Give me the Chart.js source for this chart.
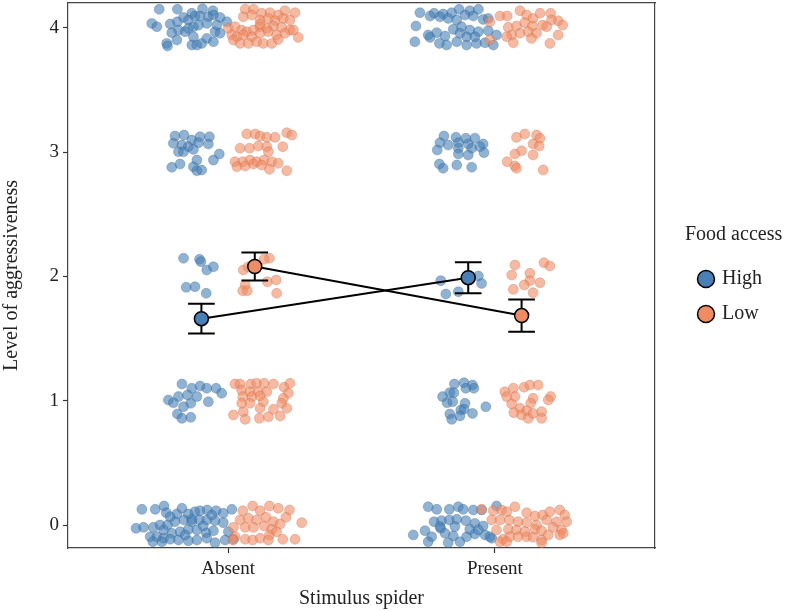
<!DOCTYPE html>
<html>
<head>
<meta charset="utf-8">
<script src="https://cdn.jsdelivr.net/npm/chart.js@4.4.1/dist/chart.umd.min.js"></script>
<style>
  html, body { margin: 0; padding: 0; background: #fff; }
  #wrap { width: 790px; height: 611px; }
</style>
</head>
<body>
<div id="wrap"><canvas id="chart"></canvas></div>
<script>
const stimulus = ['Absent', 'Present']
const foodAccess = ['High', 'Low']
const yTicks = [0, 1, 2, 3, 4]

// group means and standard errors (Absent, Present)
const highMean = [1.66, 1.99]
const highSE = [0.12, 0.125]
const lowMean = [2.08, 1.685]
const lowSE = [0.113, 0.13]

const absentHigh = [
  [0.742,4.149],[0.810,4.149],[0.864,4.117],[0.904,4.154],[0.943,4.138],[0.714,4.036],[0.733,4.009],[0.783,4.031],
  [0.810,4.049],[0.833,4.084],[0.851,4.063],[0.876,4.095],[0.895,4.095],[0.926,4.089],[0.945,4.103],[0.970,4.084],
  [0.995,4.049],[0.789,3.961],[0.814,3.982],[0.839,3.969],[0.870,4.009],[0.889,4.022],[0.920,4.036],[0.951,3.969],
  [0.970,3.956],[0.808,3.902],[0.770,3.875],[0.773,3.854],[0.864,3.862],[0.883,3.862],[0.901,3.875],[0.920,3.915],
  [0.945,3.888],[0.870,3.928],[0.851,3.996],[0.958,4.022],
  [0.801,3.130],[0.835,3.137],[0.864,3.097],[0.895,3.124],[0.930,3.124],[0.795,3.071],[0.827,3.057],[0.851,3.044],
  [0.889,3.076],[0.926,3.065],[0.814,3.003],[0.833,3.003],[0.870,3.022],[0.883,2.936],[0.945,2.936],[0.967,2.985],
  [0.789,2.878],[0.820,2.904],[0.870,2.883],[0.883,2.850],[0.901,2.856],
  [0.833,2.146],[0.893,2.138],[0.898,2.119],[0.920,2.052],[0.945,2.078],[0.843,1.912],[0.876,1.917],[0.918,1.864],
  [0.827,1.134],[0.864,1.100],[0.895,1.118],[0.920,1.100],[0.955,1.100],[0.976,1.060],[0.814,1.033],[0.848,1.046],
  [0.883,1.033],[0.776,1.006],[0.795,0.984],[0.860,0.979],[0.926,0.992],[0.833,0.952],[0.810,0.893],[0.827,0.858],
  [0.860,0.866],
  [0.677,0.126],[0.727,0.126],[0.760,0.153],[0.768,0.099],[0.808,0.088],[0.827,0.134],[0.851,0.088],[0.876,0.107],
  [0.895,0.115],[0.922,0.121],[0.955,0.115],[0.982,0.094],[1.014,0.126],[0.655,-0.027],[0.683,-0.019],[0.720,-0.019],
  [0.745,0.000],[0.773,0.000],[0.801,0.027],[0.835,0.040],[0.864,0.046],[0.893,0.040],[0.920,0.040],[0.951,0.035],
  [0.982,0.019],[0.708,-0.094],[0.733,-0.094],[0.758,-0.107],[0.789,-0.067],[0.820,-0.054],[0.851,-0.035],[0.883,-0.040],
  [0.918,-0.062],[0.945,-0.046],[1.001,-0.054],[0.718,-0.134],[0.752,-0.134],[0.783,-0.115],[0.814,-0.121],[0.851,-0.126],
  [0.883,-0.121],[0.920,-0.107],[0.951,-0.142],[0.989,-0.121],[1.020,-0.115],[0.864,0.027],[0.783,0.067],[0.758,-0.040],
  [0.907,-0.008],[0.839,-0.080],[0.939,0.080]
]
const absentLow = [
  [1.064,4.149],[1.095,4.149],[1.126,4.117],[1.157,4.122],[1.188,4.103],[1.213,4.138],[1.251,4.122],[1.057,4.089],
  [1.089,4.103],[1.120,4.063],[1.151,4.076],[1.176,4.057],[1.207,4.076],[1.232,4.063],[1.001,3.996],[1.026,4.009],
  [1.051,3.982],[1.070,3.969],[1.095,3.982],[1.120,4.009],[1.145,3.996],[1.170,4.015],[1.201,4.004],[1.232,3.982],
  [1.014,3.942],[1.033,3.928],[1.057,3.942],[1.089,3.928],[1.120,3.956],[1.151,3.969],[1.182,3.942],[1.213,3.956],
  [1.263,3.923],[1.020,3.902],[1.045,3.875],[1.076,3.875],[1.107,3.888],[1.132,3.875],[1.164,3.875],[1.188,3.907],
  [1.120,4.031],[1.245,3.982],
  [1.070,3.146],[1.101,3.146],[1.120,3.130],[1.145,3.119],[1.176,3.119],[1.220,3.156],[1.239,3.137],[1.045,3.031],
  [1.080,3.031],[1.113,3.049],[1.145,3.044],[1.151,3.003],[1.205,3.044],[1.026,2.923],[1.055,2.923],[1.082,2.936],
  [1.107,2.923],[1.135,2.936],[1.164,2.923],[1.188,2.910],[1.033,2.883],[1.064,2.888],[1.095,2.904],[1.126,2.896],
  [1.155,2.862],[1.220,2.850],
  [1.155,2.146],[1.135,2.138],[1.057,2.052],[1.064,1.931],[1.055,1.885],[1.072,1.885],[1.147,1.957],[1.180,1.971],
  [1.182,1.864],[1.076,2.078],
  [1.026,1.134],[1.045,1.134],[1.085,1.134],[1.107,1.140],[1.135,1.140],[1.170,1.134],[1.210,1.108],[1.232,1.140],
  [1.051,1.086],[1.082,1.072],[1.113,1.072],[1.145,1.072],[1.226,1.060],[1.055,1.033],[1.089,1.033],[1.120,1.038],
  [1.207,1.019],[1.051,0.979],[1.082,0.979],[1.132,0.992],[1.201,0.979],[1.220,0.939],[1.057,0.912],[1.120,0.939],
  [1.170,0.931],[1.020,0.885],[1.064,0.850],[1.117,0.858],[1.151,0.871],[1.195,0.877],
  [1.055,0.115],[1.092,0.153],[1.120,0.115],[1.155,0.153],[1.188,0.134],[1.230,0.121],[1.045,0.040],[1.076,0.054],
  [1.107,0.040],[1.142,0.062],[1.170,0.027],[1.217,0.062],[1.276,0.019],[1.020,-0.019],[1.064,-0.019],[1.095,-0.019],
  [1.135,-0.008],[1.164,-0.035],[1.195,0.008],[1.026,-0.094],[1.064,-0.115],[1.092,-0.121],[1.120,-0.107],[1.155,-0.080],
  [1.182,-0.054],[1.205,-0.115],[1.251,-0.115],[1.018,-0.121],[1.151,-0.121]
]
const presentHigh = [
  [1.719,4.122],[1.772,4.117],[1.806,4.111],[1.838,4.122],[1.866,4.149],[1.906,4.138],[1.938,4.149],[1.704,4.015],
  [1.757,4.095],[1.794,4.089],[1.825,4.076],[1.857,4.063],[1.888,4.103],[1.919,4.095],[1.956,4.068],[1.975,4.076],
  [1.750,3.942],[1.782,3.961],[1.813,3.934],[1.844,3.988],[1.875,4.009],[1.906,3.982],[1.938,3.969],[1.975,3.977],
  [1.700,3.888],[1.757,3.923],[1.792,3.875],[1.819,3.862],[1.857,3.888],[1.894,3.862],[1.931,3.875],[1.963,3.880],
  [1.994,3.862],[2.006,3.942],[1.869,3.956],[1.894,3.928],[1.925,3.928],
  [1.809,3.130],[1.854,3.119],[1.891,3.111],[1.925,3.111],[1.794,3.076],[1.825,3.057],[1.863,3.076],[1.900,3.065],
  [1.956,3.065],[1.784,3.017],[1.863,3.031],[1.913,3.031],[1.944,3.044],[1.959,2.996],[1.863,2.985],[1.900,2.977],
  [1.792,2.904],[1.806,2.870],[1.857,2.896],[1.913,2.878],
  [1.797,1.966],[1.816,1.858],[1.863,1.877],[1.938,2.003],[1.950,1.944],
  [1.848,1.134],[1.884,1.145],[1.916,1.126],[1.921,1.100],[1.831,1.065],[1.891,1.100],[1.804,1.033],[1.846,1.065],
  [1.821,0.984],[1.842,0.992],[1.888,0.979],[1.872,0.925],[1.884,0.931],[1.916,0.898],[1.966,0.952],[1.831,0.893],
  [1.869,0.877],[1.838,0.850],
  [1.750,0.147],[1.782,0.126],[1.829,0.126],[1.863,0.147],[1.881,0.126],[1.919,0.121],[1.950,0.121],[2.006,0.153],
  [1.772,0.027],[1.800,0.035],[1.829,0.040],[1.857,0.046],[1.891,0.035],[1.925,0.013],[1.956,-0.008],[1.694,-0.080],
  [1.738,-0.046],[1.763,-0.094],[1.797,-0.027],[1.813,-0.067],[1.844,-0.088],[1.869,-0.134],[1.894,-0.094],[1.925,-0.072],
  [1.963,-0.080],[1.988,-0.107],[1.750,-0.134],[1.825,-0.142],[1.794,-0.013],[1.850,-0.013],[1.906,-0.035],[1.938,-0.040],
  [1.981,-0.094]
]
const presentLow = [
  [2.019,4.095],[2.046,4.095],[2.094,4.138],[2.119,4.103],[2.143,4.076],[2.169,4.117],[2.209,4.117],[2.237,4.057],
  [2.254,4.022],[1.981,4.049],[2.050,4.004],[2.081,4.015],[2.112,4.041],[2.141,4.015],[2.179,4.022],[2.212,4.063],
  [2.063,3.942],[2.094,3.956],[2.125,3.969],[2.156,3.956],[2.194,4.009],[1.981,3.902],[2.044,3.928],[2.069,3.880],
  [2.137,3.915],[2.206,3.875],[2.237,3.942],
  [2.081,3.119],[2.112,3.146],[2.156,3.137],[2.169,3.111],[2.143,3.065],[2.166,3.049],[2.075,2.985],[2.100,3.011],
  [2.143,2.977],[2.046,2.923],[2.075,2.888],[2.081,2.870],[2.181,2.856],
  [2.075,2.092],[2.184,2.110],[2.206,2.084],[2.063,2.011],[2.131,2.025],[2.131,1.966],[2.110,1.931],[2.169,1.949],
  [2.069,1.896],[2.143,1.869],
  [2.037,1.072],[2.069,1.100],[2.109,1.108],[2.131,1.126],[2.162,1.126],[2.075,1.033],[2.044,1.033],[2.143,1.019],
  [2.209,1.033],[2.063,0.973],[2.094,0.939],[2.134,0.979],[2.119,0.920],[2.175,0.912],[2.071,0.904],[2.100,0.885],
  [2.125,0.858],[2.143,0.898],[2.175,0.858],[2.200,1.006],
  [1.950,0.126],[1.994,0.115],[2.025,0.121],[2.044,0.107],[2.075,0.147],[2.119,0.099],[2.150,0.072],[2.179,0.080],
  [2.206,0.107],[2.243,0.121],[2.262,0.080],[1.988,0.040],[2.019,0.040],[2.054,0.040],[2.087,0.027],[2.119,0.019],
  [2.156,0.000],[2.194,0.040],[2.231,0.027],[2.269,0.027],[2.006,-0.040],[2.050,-0.035],[2.081,-0.040],[2.112,-0.054],
  [2.150,-0.035],[2.175,-0.046],[2.218,-0.019],[2.250,-0.040],[2.031,-0.115],[2.056,-0.094],[2.087,-0.094],[2.119,-0.094],
  [2.143,-0.099],[2.175,-0.121],[2.200,-0.080],[2.243,-0.080],[2.256,-0.067],[2.019,-0.134],[2.175,-0.142],[2.044,-0.134]
]

const blue = '#4A7FB5'
const orange = '#F08C64'
const dodge = 0.1
const capHalf = 0.05
const serif = "'Liberation Serif', 'DejaVu Serif', serif"

function toPoints(pairs) {
  return pairs.map(p => ({x: p[0], y: p[1]}))
}

function meanPoints(means, shift) {
  return means.map((m, i) => ({x: i + 1 + shift, y: m}))
}

function errorBars(means, ses, shift) {
  let pts = []
  means.forEach((m, i) => {
    const x = i + 1 + shift
    const lo = m - ses[i]
    const hi = m + ses[i]
    pts.push({x: x - capHalf, y: hi}, {x: x + capHalf, y: hi}, {x: x, y: null})
    pts.push({x: x, y: hi}, {x: x, y: lo}, {x: x, y: null})
    pts.push({x: x - capHalf, y: lo}, {x: x + capHalf, y: lo}, {x: x, y: null})
  })
  return pts
}

// legend needs room for its title, which is wider than the items
const legendWidth = {
  id: 'legendWidth',
  beforeLayout(chart) {
    const lg = chart.legend
    if (lg && !lg._widened) {
      const fit = lg.fit
      lg.fit = function () {
        fit.call(this)
        this.width = 105
      }
      lg._widened = true
    }
  }
}

const ctx = document.querySelector('#chart').getContext('2d')

new Chart(ctx, {
  type: 'scatter',
  data: {
    datasets: [
      {
        label: foodAccess[0],
        data: meanPoints(highMean, -dodge),
        showLine: true,
        borderColor: '#000',
        borderWidth: 2,
        pointRadius: 7,
        pointBackgroundColor: blue,
        pointBorderColor: '#000',
        pointBorderWidth: 1.5,
        order: 0
      },
      {
        label: foodAccess[1],
        data: meanPoints(lowMean, dodge),
        showLine: true,
        borderColor: '#000',
        borderWidth: 2,
        pointRadius: 7,
        pointBackgroundColor: orange,
        pointBorderColor: '#000',
        pointBorderWidth: 1.5,
        order: 0
      },
      {
        label: 'errHigh',
        data: errorBars(highMean, highSE, -dodge),
        showLine: true,
        spanGaps: false,
        borderColor: '#000',
        borderWidth: 2,
        pointRadius: 0,
        order: 2
      },
      {
        label: 'errLow',
        data: errorBars(lowMean, lowSE, dodge),
        showLine: true,
        spanGaps: false,
        borderColor: '#000',
        borderWidth: 2,
        pointRadius: 0,
        order: 2
      },
      {
        label: 'rawHigh',
        data: toPoints(absentHigh.concat(presentHigh)),
        backgroundColor: 'rgba(70, 127, 181, 0.6)',
        borderColor: 'rgba(40, 85, 130, 0.45)',
        borderWidth: 0.6,
        pointRadius: 5,
        order: 4
      },
      {
        label: 'rawLow',
        data: toPoints(absentLow.concat(presentLow)),
        backgroundColor: 'rgba(240, 140, 100, 0.6)',
        borderColor: 'rgba(190, 90, 55, 0.45)',
        borderWidth: 0.6,
        pointRadius: 5,
        order: 3
      }
    ]
  },
  plugins: [legendWidth],
  options: {
    responsive: true,
    maintainAspectRatio: false,
    animation: false,
    layout: { padding: 0, autoPadding: false },
    plugins: {
      tooltip: { enabled: false },
      legend: {
        position: 'right',
        align: 'start',
        title: {
          display: true,
          text: 'Food access',
          position: 'start',
          color: '#222',
          font: { family: serif, size: 20 },
          padding: { top: 225, bottom: 5 }
        },
        labels: {
          filter: item => item.datasetIndex < 2,
          usePointStyle: true,
          pointStyle: 'circle',
          boxWidth: 12,
          boxHeight: 12,
          padding: 15,
          color: '#222',
          font: { family: serif, size: 20 }
        }
      }
    },
    scales: {
      x: {
        type: 'linear',
        min: 0.4,
        max: 2.6,
        afterBuildTicks: scale => { scale.ticks = stimulus.map((s, i) => ({value: i + 1})) },
        ticks: {
          callback: v => stimulus[v - 1],
          color: '#222',
          font: { family: serif, size: 19 },
          padding: 5,
          maxRotation: 0
        },
        grid: { drawOnChartArea: false, drawTicks: true, tickLength: 5, color: '#333', tickWidth: 1.2 },
        border: { display: true, color: '#444', width: 1.2 },
        title: {
          display: true,
          text: 'Stimulus spider',
          color: '#222',
          font: { family: serif, size: 20 },
          padding: { top: 4, bottom: 0 }
        },
        afterFit: scale => {
          scale.height = 63
          scale.paddingLeft = 0
          scale.paddingRight = 0
        }
      },
      x2: {
        type: 'linear',
        position: 'top',
        min: 0.4,
        max: 2.6,
        ticks: { display: false },
        grid: { drawOnChartArea: false, drawTicks: false },
        border: { display: true, color: '#444', width: 1.2 },
        afterFit: scale => { scale.height = 3 }
      },
      y: {
        type: 'linear',
        min: -0.185,
        max: 4.2,
        afterBuildTicks: scale => { scale.ticks = yTicks.map(v => ({value: v})) },
        ticks: {
          color: '#222',
          font: { family: serif, size: 19 },
          padding: 4
        },
        grid: { drawOnChartArea: false, drawTicks: true, tickLength: 5, color: '#333', tickWidth: 1.2 },
        border: { display: true, color: '#444', width: 1.2 },
        title: {
          display: true,
          text: 'Level of aggressiveness',
          color: '#222',
          font: { family: serif, size: 20 },
          padding: { top: 0, bottom: 8 }
        },
        afterFit: scale => {
          scale.width = 68
          scale.paddingTop = 0
          scale.paddingBottom = 0
        }
      },
      y2: {
        type: 'linear',
        position: 'right',
        min: -0.185,
        max: 4.2,
        ticks: { display: false },
        grid: { drawOnChartArea: false, drawTicks: false },
        border: { display: true, color: '#444', width: 1.2 },
        afterFit: scale => { scale.width = 30 }
      }
    }
  }
})
</script>
</body>
</html>
